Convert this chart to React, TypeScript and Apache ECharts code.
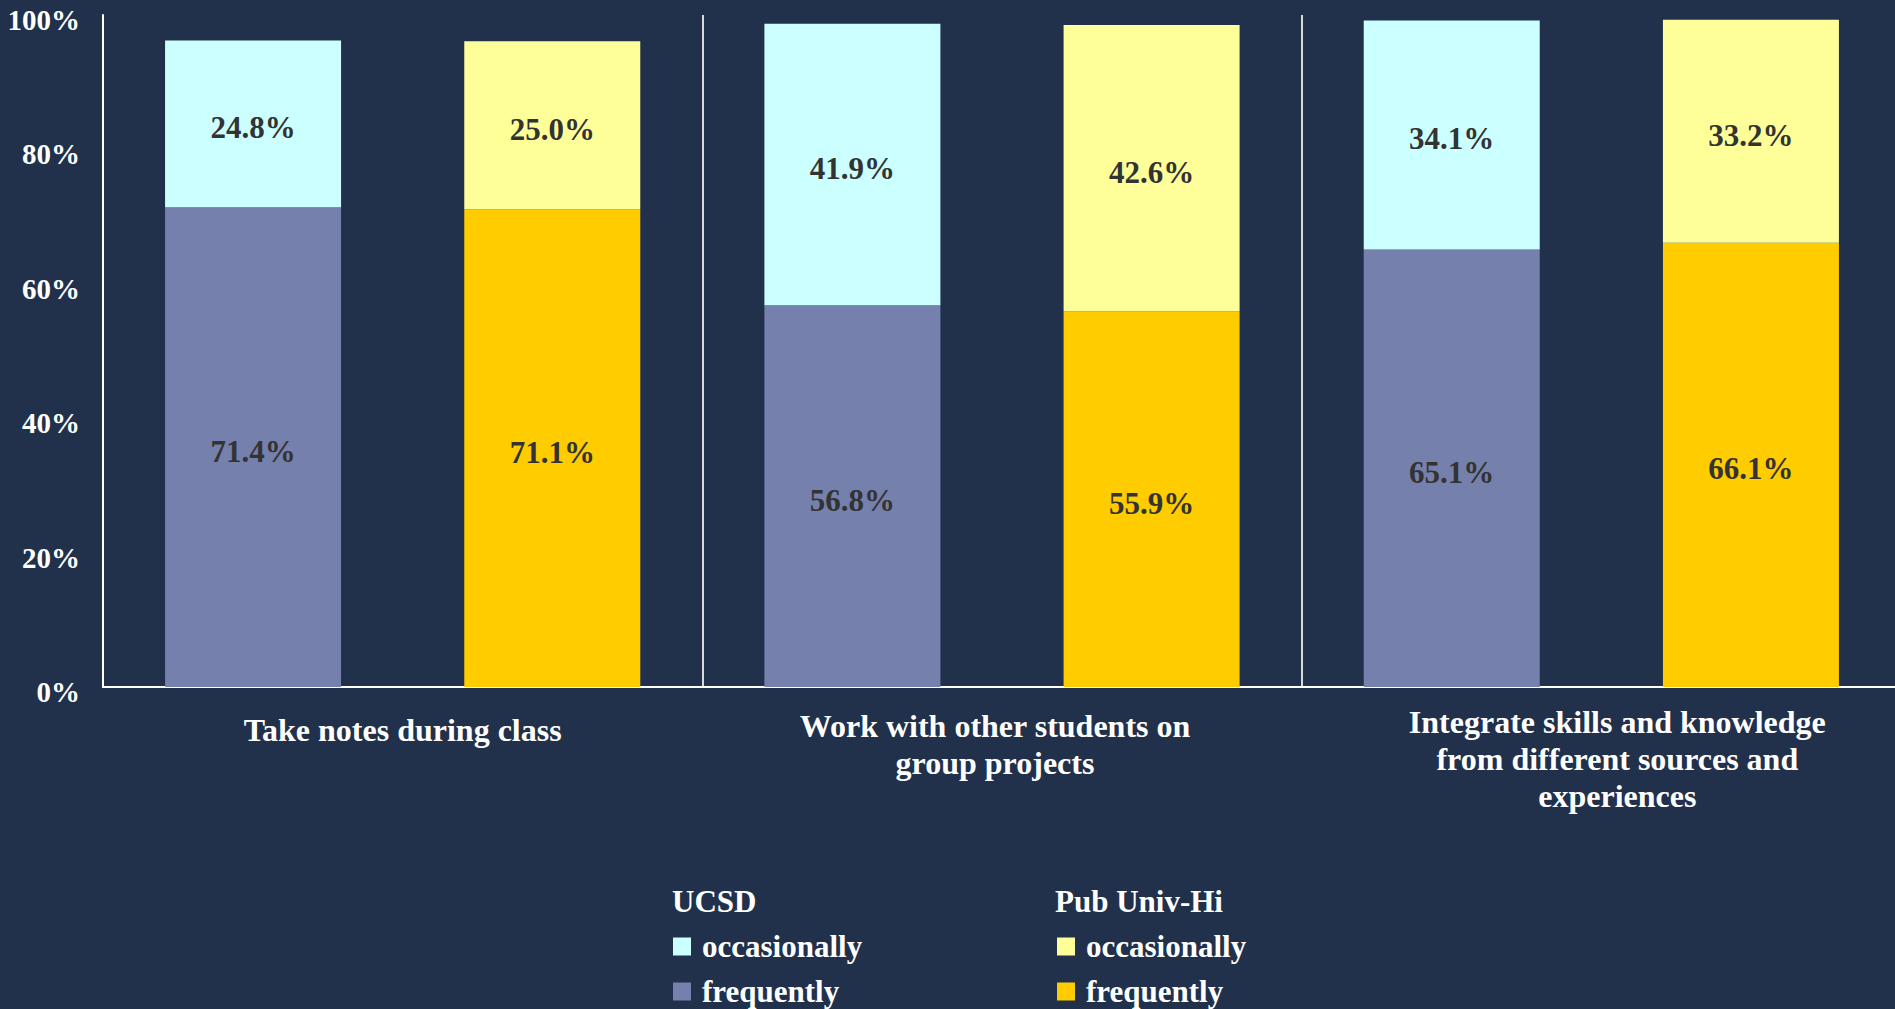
import React, { useEffect, useRef } from "react";
import * as echarts from "echarts";

const categories = [
  "Take notes during class",
  "Work with other students on\ngroup projects",
  "Integrate skills and knowledge\nfrom different sources and\nexperiences",
];
const ucsdFrequently = [71.4, 56.8, 65.1];
const ucsdOccasionally = [24.8, 41.9, 34.1];
const pubFrequently = [71.1, 55.9, 66.1];
const pubOccasionally = [25.0, 42.6, 33.2];
const yTicks = [0, 20, 40, 60, 80, 100];

const FONT = "'Liberation Serif', 'DejaVu Serif', serif";
const BG = "#21314b";

export default function App() {
  const ref = useRef<HTMLDivElement>(null);
  useEffect(() => {
    if (!ref.current) return;
    const chart = echarts.init(ref.current, null, { renderer: "svg" });
    const label = {
      show: true,
      position: "inside",
      offset: [0, 4],
      color: "#333333",
      fontFamily: FONT,
      fontWeight: "bold",
      fontSize: 31,
      formatter: (p: any) => p.value.toFixed(1) + "%",
    };
    const mk = (name: string, stack: string, data: number[], color: string) => ({
      name,
      type: "bar",
      stack,
      data,
      barWidth: 176,
      barGap: "70%",
      itemStyle: { color },
      label,
    });
    const legendText = {
      color: "#ffffff",
      fontFamily: FONT,
      fontWeight: "bold",
      fontSize: 31,
      lineHeight: 30,
      padding: [0, 0, 0, 6],
    };
    const labelShift = [[8, 0, 0, 0], [4, 14, 0, 0], [0, 0, 0, 32]];
    chart.setOption({
      animation: false,
      backgroundColor: BG,
      textStyle: { fontFamily: FONT },
      grid: { left: 103, width: 1798, top: 15, bottom: 322, outerBoundsMode: "none", containLabel: false },
      xAxis: {
        type: "category",
        data: categories.map((c, i) => ({ value: c, textStyle: { padding: labelShift[i] } })),
        axisLine: { show: true, lineStyle: { color: "#ffffff", width: 2 } },
        axisTick: { show: false },
        splitLine: { show: true, lineStyle: { color: "#d9d9d9", width: 2 } },
        axisLabel: {
          interval: 0,
          hideOverlap: false,
          color: "#ffffff",
          fontFamily: FONT,
          fontWeight: "bold",
          fontSize: 32,
          lineHeight: 37,
          margin: 16,
        },
      },
      yAxis: {
        type: "value",
        min: yTicks[0],
        max: yTicks[yTicks.length - 1],
        interval: yTicks[1] - yTicks[0],
        axisLine: { show: true, lineStyle: { color: "#ffffff", width: 2 } },
        axisTick: { show: false },
        splitLine: { show: false },
        axisLabel: {
          formatter: "{a|{value}%}",
          margin: 23,
          rich: {
            a: {
              color: "#ffffff",
              fontFamily: FONT,
              fontWeight: "bold",
              fontSize: 29,
              padding: [10, 0, 0, 0],
            },
          },
        },
      },
      legend: [
        {
          orient: "vertical",
          left: 673,
          top: 931,
          height: 150,
          padding: 0,
          icon: "rect",
          itemWidth: 18,
          itemHeight: 18,
          itemGap: 14,
          data: ["UCSD occasionally", "UCSD frequently"],
          formatter: (n: string) => n.split(" ").pop(),
          textStyle: legendText,
        },
        {
          orient: "vertical",
          left: 1057,
          top: 931,
          height: 150,
          padding: 0,
          icon: "rect",
          itemWidth: 18,
          itemHeight: 18,
          itemGap: 14,
          data: ["Pub Univ-Hi occasionally", "Pub Univ-Hi frequently"],
          formatter: (n: string) => n.split(" ").pop(),
          textStyle: legendText,
        },
      ],
      graphic: [
        {
          type: "text",
          left: 672,
          top: 886,
          style: { text: "UCSD", fill: "#ffffff", font: `bold 31px ${FONT}` },
        },
        {
          type: "text",
          left: 1055,
          top: 886,
          style: { text: "Pub Univ-Hi", fill: "#ffffff", font: `bold 31px ${FONT}` },
        },
      ],
      series: [
        mk("UCSD frequently", "ucsd", ucsdFrequently, "#7680ac"),
        mk("UCSD occasionally", "ucsd", ucsdOccasionally, "#ccffff"),
        mk("Pub Univ-Hi frequently", "pub", pubFrequently, "#ffcc00"),
        mk("Pub Univ-Hi occasionally", "pub", pubOccasionally, "#ffff99"),
      ],
    });
    return () => chart.dispose();
  }, []);
  return (
    <div
      ref={ref}
      style={{ position: "fixed", left: 0, top: 0, width: 1895, height: 1009, background: BG }}
    />
  );
}
